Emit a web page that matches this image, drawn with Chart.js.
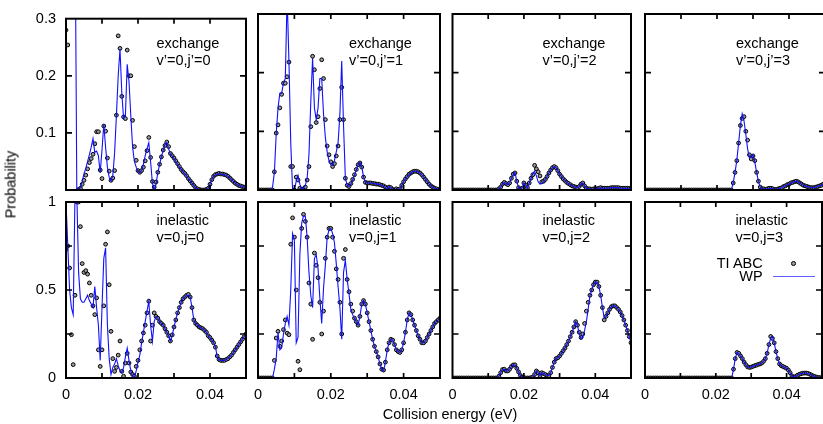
<!DOCTYPE html>
<html><head><meta charset="utf-8">
<script src="https://cdn.jsdelivr.net/npm/chart.js@4.4.1/dist/chart.umd.min.js"></script>
<style>
html,body{margin:0;padding:0;background:#fff;overflow:hidden;width:823px;height:424px;}
#wrap{position:relative;width:823px;height:424px;overflow:hidden;font-family:'Liberation Sans',Arial,sans-serif;color:#000;}
canvas{position:absolute;left:0;top:0;}
.t{position:absolute;font-size:14.5px;line-height:17px;white-space:nowrap;}
</style></head><body><div id="wrap">
<canvas id="c0" width="830" height="424"></canvas>
<canvas id="c1" width="830" height="424"></canvas>
<canvas id="c2" width="830" height="424"></canvas>
<canvas id="c3" width="830" height="424"></canvas>
<canvas id="c4" width="830" height="424"></canvas>
<canvas id="c5" width="830" height="424"></canvas>
<canvas id="c6" width="830" height="424"></canvas>
<canvas id="c7" width="830" height="424"></canvas>
<div class="t" style="left:156.5px;top:35px">exchange<br>v’=0,j’=0</div>
<div class="t" style="left:349px;top:35px">exchange<br>v’=0,j’=1</div>
<div class="t" style="left:542.5px;top:35px">exchange<br>v’=0,j’=2</div>
<div class="t" style="left:736px;top:35px">exchange<br>v’=0,j’=3</div>
<div class="t" style="left:156.5px;top:211.5px">inelastic<br>v=0,j=0</div>
<div class="t" style="left:349px;top:211.5px">inelastic<br>v=0,j=1</div>
<div class="t" style="left:542.5px;top:211.5px">inelastic<br>v=0,j=2</div>
<div class="t" style="left:735.5px;top:211.5px">inelastic<br>v=0,j=3</div>
<div class="t" style="right:60.3px;top:255px;text-align:right">TI ABC</div>
<div class="t" style="right:60.3px;top:267.5px;text-align:right">WP</div>
<div style="position:absolute;left:791px;top:261.2px;width:4.6px;height:4.6px;border:1px solid #000;border-radius:50%;background:#999;box-sizing:border-box"></div>
<div style="position:absolute;left:772.7px;top:275.9px;width:42.3px;height:1.2px;background:#6060ff"></div>
<div class="t" style="left:-39px;top:175.5px;width:100px;text-align:center;transform:rotate(-90deg)">Probability</div>
<div class="t" style="left:300px;top:405.5px;width:300px;text-align:center">Collision energy (eV)</div>
</div>
<script>
// Collision energy grid (eV)
const energy = [0,0.0005,0.001,0.0015,0.002,0.0025,0.003,0.0035,0.004,0.0045,
0.005,0.0055,0.006,0.0065,0.007,0.0075,0.008,0.0085,0.009,0.0095,
0.01,0.0105,0.011,0.0115,0.012,0.0125,0.013,0.0135,0.014,0.0145,
0.015,0.0155,0.016,0.0165,0.017,0.0175,0.018,0.0185,0.019,0.0195,
0.02,0.0205,0.021,0.0215,0.022,0.0225,0.023,0.0235,0.024,0.0245,
0.025,0.0255,0.026,0.0265,0.027,0.0275,0.028,0.0285,0.029,0.0295,
0.03,0.0305,0.031,0.0315,0.032,0.0325,0.033,0.0335,0.034,0.0345,
0.035,0.0355,0.036,0.0365,0.037,0.0375,0.038,0.0385,0.039,0.0395,
0.04,0.0405,0.041,0.0415,0.042,0.0425,0.043,0.0435,0.044,0.0445,
0.045,0.0455,0.046,0.0465,0.047,0.0475,0.048,0.0485,0.049,0.0495,
0.05];

// exchange v'=0,j'=0
const exWP0 = [0.17,0.9,0.9,0.9,0.9,0.5,0,0,0.005,0.015,
0.028,0.038,0.05,0.062,0.075,0.09,0.066,0.068,0.06,0.03,
0.07,0.115,0.075,0.04,0.022,0.016,0.025,0.065,0.13,0.2,
0.247,0.17,0.125,0.13,0.22,0.19,0.13,0.075,0.05,0.04,
0.032,0.03,0.034,0.045,0.06,0.072,0.083,0.05,0.012,0,
0.01,0.03,0.045,0.058,0.07,0.08,0.083,0.072,0.063,0.06,
0.055,0.05,0.045,0.04,0.036,0.032,0.028,0.025,0.02,0.016,
0.012,0.008,0.004,0.002,0.001,0,0,0,0.001,0.003,
0.01,0.018,0.024,0.027,0.028,0.028,0.028,0.027,0.027,0.026,
0.024,0.021,0.018,0.015,0.012,0.01,0.008,0.007,0.006,0.005,
0.004];
const exTI0 = [0.28,0.254,null,null,null,null,null,0.001,0.003,0.01,
0.017,0.026,0.037,0.048,0.055,0.0625,0.081,0.102,0.102,0.035,
0.02,0.112,0.103,0.056,0.033,0.017,0.021,0.034,0.131,0.27,
0.248,0.164,0.128,0.125,0.245,0.2,0.2,0.122,0.076,0.052,
0.034,0.031,0.034,0.04,0.051,0.069,0.092,0.057,0.015,0.005,
0.014,0.031,0.045,0.058,0.07,0.078,0.084,0.076,0.064,0.06,
0.056,0.051,0.046,0.041,0.036,0.032,0.029,0.025,0.02,0.016,
0.012,0.008,0.004,0.002,0.001,0,0,0,0.001,0.003,
0.01,0.018,0.024,0.027,0.028,0.029,0.028,0.028,0.027,0.026,
0.024,0.021,0.018,0.015,0.012,0.01,0.008,0.007,0.006,0.005,
0.004];

// exchange v'=0,j'=1
const exWP1 = [0,0,0,0,0,0,0,0,0.005,0.03,
0.095,0.14,0.165,0.165,0.182,0.19,0.33,0.22,0.08,0,
0,0.015,0.025,0.01,0.002,0.003,0.008,0.02,0.06,0.15,
0.225,0.14,0.12,0.14,0.19,0.19,0.13,0.09,0.065,0.05,
0.043,0.042,0.05,0.065,0.08,0.13,0.22,0.11,0.02,0.008,
0.006,0.01,0.017,0.025,0.034,0.043,0.047,0.04,0.022,0.013,
0.012,0.012,0.012,0.011,0.011,0.01,0.01,0.009,0.008,0.007,
0.004,0.002,0.006,0.004,0.001,0,0.002,0.001,0.002,0.008,
0.014,0.019,0.023,0.026,0.029,0.031,0.032,0.032,0.031,0.029,
0.026,0.022,0.018,0.014,0.01,0.007,0.005,0.003,0.002,0.001,
0.001];
const exTI1 = [0,0,0,0,0,0,0,0,0,0.031,
0.097,0.111,0.14,0.163,0.182,0.182,0.193,0.218,0.04,0.04,
0,0.022,0.017,0.003,0.001,0.002,0.005,0.017,0.04,0.108,
0.228,0.205,0.115,0.125,0.173,0.222,0.19,0.12,0.075,0.06,
0.048,0.04,0.045,0.058,0.075,0.12,0.175,0.12,0.02,0.008,
0.006,0.011,0.018,0.026,0.035,0.043,0.046,0.039,0.022,0.013,
0.012,0.012,0.012,0.011,0.011,0.01,0.01,0.009,0.008,0.007,
0.005,0.003,0.005,0.004,0.001,0,0.002,0.001,0.002,0.008,
0.014,0.019,0.023,0.027,0.029,0.031,0.032,0.032,0.031,0.029,
0.026,0.022,0.018,0.014,0.01,0.007,0.005,0.003,0.002,0.001,
0.001];

// exchange v'=0,j'=2
const exWP2 = [0,0,0,0,0,0,0,0,0,0,
0,0,0,0,0,0,0,0,0,0,
0,0,0,0,0,0,0.002,0.005,0.01,0.013,
0.011,0.009,0.012,0.02,0.026,0.03,0.015,0.004,0.001,0.004,
0.012,0.008,0.003,0.012,0.02,0.028,0.032,0.024,0.014,0.01,
0.011,0.014,0.018,0.023,0.029,0.034,0.038,0.04,0.038,0.033,
0.027,0.023,0.019,0.016,0.013,0.011,0.009,0.007,0.006,0.005,
0.004,0.006,0.01,0.012,0.007,0.003,0.002,0.002,0.001,0.002,
0.002,0.002,0.003,0.004,0.003,0.003,0.003,0.003,0.003,0.004,
0.004,0.004,0.004,0.004,0.003,0.003,0.003,0.003,0.003,0.003,
0.003];
const exTI2 = [0,0,0,0,0,0,0,0,0,0,
0,0,0,0,0,0,0,0,0,0,
0,0,0,0,0,0,0.002,0.005,0.01,0.013,
0.011,0.009,0.012,0.02,0.027,0.029,0.015,0.004,0.001,0.003,
0.012,0.008,0.004,0.012,0.02,0.026,0.042,0.036,0.031,0.024,
0.014,0.015,0.018,0.023,0.029,0.034,0.038,0.04,0.038,0.033,
0.027,0.023,0.019,0.016,0.013,0.011,0.009,0.007,0.006,0.005,
0.004,0.006,0.01,0.012,0.007,0.003,0.002,0.002,0.001,0.002,
0.002,0.002,0.003,0.004,0.003,0.003,0.003,0.003,0.003,0.004,
0.004,0.004,0.004,0.004,0.003,0.003,0.003,0.003,0.003,0.003,
0.003];

// exchange v'=0,j'=3
const exWP3 = [0,0,0,0,0,0,0,0,0,0,
0,0,0,0,0,0,0,0,0,0,
0,0,0,0,0,0,0,0,0,0,
0,0,0,0,0,0,0,0,0,0,
0,0,0,0,0,0,0,0,0,0.012,
0.03,0.05,0.08,0.11,0.13,0.118,0.095,0.07,0.055,0.056,
0.06,0.048,0.03,0.015,0.005,0.002,0.002,0.001,0.002,0.003,
0.003,0.002,0.001,0.001,0.002,0.003,0.004,0.006,0.007,0.009,
0.01,0.012,0.013,0.014,0.015,0.014,0.012,0.01,0.008,0.007,
0.006,0.005,0.004,0.004,0.004,0.005,0.006,0.007,0.008,0.01,
0.012];
const exTI3 = [0,0,0,0,0,0,0,0,0,0,
0,0,0,0,0,0,0,0,0,0,
0,0,0,0,0,0,0,0,0,0,
0,0,0,0,0,0,0,0,0,0,
0,0,0,0,0,0,0,0,0,0.012,
0.03,0.05,0.08,0.11,0.122,0.125,0.1,0.085,0.06,0.053,
0.058,0.05,0.03,0.015,0.005,0.002,0.002,0.001,0.002,0.003,
0.003,0.002,0.001,0.001,0.002,0.003,0.004,0.006,0.007,0.009,
0.01,0.012,0.013,0.014,0.015,0.014,0.012,0.01,0.008,0.007,
0.006,0.005,0.004,0.004,0.004,0.005,0.006,0.007,0.008,0.01,
0.012];

// inelastic v=0,j=0
const inWP0 = [1.0,0.75,0.5,0.4,0.36,1.05,1.05,0.6,0.45,0.43,
0.43,0.45,0.47,0.44,0.42,0.4,0.52,0.4,0.3,0.1,
0.4,0.68,0.74,0.3,0.11,0.02,0.06,0.08,0.11,0.07,
0.04,0.03,0.06,0.12,0.17,0.1,0.04,0.01,0,0.04,
0.09,0.13,0.2,0.26,0.32,0.38,0.435,0.3,0.21,0.32,
0.35,0.34,0.32,0.31,0.3,0.28,0.26,0.24,0.21,0.24,
0.29,0.33,0.37,0.4,0.43,0.45,0.46,0.47,0.47,0.46,
0.4,0.33,0.31,0.3,0.29,0.285,0.28,0.27,0.26,0.24,
0.23,0.215,0.2,0.18,0.12,0.105,0.1,0.1,0.1,0.105,
0.11,0.12,0.13,0.145,0.16,0.175,0.19,0.205,0.22,0.235,
0.25];
const inTI0 = [0.73,0.75,0.625,0.246,0.076,0.47,1.0,1.0,0.86,0.65,
0.6,0.61,0.59,0.54,0.47,0.41,0.36,0.455,0.16,0.066,
0.16,0.41,0.76,0.83,0.53,0.265,0.11,0.038,0.06,0.13,
0.21,0.038,0.01,0.085,0.14,0.085,0.034,0.02,0.01,0.066,
0.1,0.16,0.21,0.256,0.3,0.37,0.436,0.21,0.3,0.37,
0.35,0.34,0.32,0.31,0.3,0.28,0.26,0.24,0.21,0.245,
0.29,0.33,0.37,0.4,0.43,0.45,0.46,0.47,0.475,0.46,
0.4,0.33,0.31,0.3,0.29,0.285,0.28,0.27,0.26,0.24,
0.23,0.215,0.2,0.175,0.125,0.105,0.1,0.1,0.1,0.105,
0.11,0.12,0.13,0.145,0.16,0.175,0.19,0.205,0.22,0.235,
0.25];

// inelastic v=0,j=1
const inWP1 = [0,0,0,0,0,0,0,0,0,0.05,
0.11,0.26,0.16,0.17,0.25,0.31,0.35,0.3,0.5,0.82,
0.78,0.2,0.23,0.7,0.88,0.92,0.92,0.8,0.6,0.47,
0.4,0.68,0.7,0.62,0.45,0.31,0.51,0.64,0.8,0.84,
0.85,0.82,0.77,0.65,0.52,0.4,0.22,0.6,0.67,0.56,
0.48,0.39,0.36,0.34,0.32,0.3,0.35,0.42,0.44,0.42,
0.37,0.32,0.27,0.22,0.18,0.15,0.12,0.08,0.05,0.04,
0.09,0.16,0.2,0.22,0.215,0.19,0.16,0.15,0.145,0.16,
0.2,0.26,0.33,0.37,0.36,0.33,0.3,0.27,0.24,0.22,
0.2,0.2,0.21,0.23,0.25,0.27,0.29,0.31,0.32,0.33,
0.34];
const inTI1 = [0,0,0,0,0,0,0,0,0,0.1,
0.227,0.265,0.18,0.21,0.275,0.33,0.255,0.246,0.76,0.91,
0.8,0.5,0.095,0.047,0.85,0.93,0.89,0.8,0.54,0.42,
0.22,0.71,0.64,0.57,0.43,0.25,0.38,0.68,0.8,0.85,
0.85,0.8,0.72,0.62,0.56,0.43,0.25,0.68,0.73,0.56,
0.49,0.42,0.38,0.34,0.32,0.3,0.35,0.42,0.44,0.42,
0.37,0.32,0.27,0.22,0.18,0.15,0.12,0.08,0.05,0.045,
0.09,0.16,0.2,0.22,0.215,0.19,0.16,0.15,0.145,0.16,
0.2,0.26,0.33,0.37,0.36,0.33,0.3,0.27,0.24,0.22,
0.2,0.2,0.21,0.23,0.25,0.27,0.29,0.31,0.32,0.33,
0.34];

// inelastic v=0,j=2
const inWP2 = [0,0,0,0,0,0,0,0,0,0,
0,0,0,0,0,0,0,0,0,0,
0,0,0,0,0,0,0.01,0.03,0.048,0.05,
0.04,0.04,0.05,0.065,0.074,0.075,0.055,0.035,0.015,0.005,
0.002,0,0,0,0.002,0.005,0.02,0.04,0.03,0.012,
0.03,0.025,0.02,0.015,0.012,0.03,0.06,0.09,0.11,0.115,
0.125,0.14,0.155,0.17,0.19,0.21,0.235,0.26,0.29,0.32,
0.3,0.25,0.225,0.23,0.27,0.32,0.39,0.47,0.5,0.53,
0.545,0.545,0.52,0.47,0.4,0.34,0.35,0.37,0.39,0.405,
0.41,0.41,0.4,0.39,0.375,0.355,0.33,0.3,0.27,0.235,
0.2];
const inTI2 = [0,0,0,0,0,0,0,0,0,0,
0,0,0,0,0,0,0,0,0,0,
0,0,0,0,0,0,0.01,0.03,0.048,0.05,
0.04,0.04,0.05,0.065,0.074,0.075,0.055,0.035,0.015,0.005,
0.002,0,0,0,0.002,0.005,0.02,0.04,0.03,0.012,
0.03,0.025,0.02,0.015,0.012,0.03,0.06,0.09,0.11,0.115,
0.125,0.14,0.155,0.17,0.19,0.21,0.235,0.26,0.29,0.32,
0.3,0.26,0.23,0.25,0.31,0.38,0.43,0.47,0.5,0.53,
0.545,0.545,0.52,0.47,0.4,0.33,0.35,0.37,0.39,0.405,
0.41,0.41,0.4,0.39,0.375,0.355,0.33,0.3,0.27,0.235,
0.2];

// inelastic v=0,j=3
const inWP3 = [0,0,0,0,0,0,0,0,0,0,
0,0,0,0,0,0,0,0,0,0,
0,0,0,0,0,0,0,0,0,0,
0,0,0,0,0,0,0,0,0,0,
0,0,0,0,0,0,0,0,0,0,
0.05,0.11,0.145,0.14,0.125,0.11,0.09,0.075,0.063,0.06,
0.062,0.066,0.07,0.073,0.077,0.08,0.085,0.095,0.11,0.14,
0.19,0.225,0.235,0.2,0.15,0.11,0.08,0.07,0.065,0.06,
0.055,0.045,0.03,0.012,0.005,0.008,0.015,0.02,0.024,0.027,
0.028,0.028,0.026,0.022,0.017,0.012,0.008,0.005,0.003,0.002,
0.001];
const inTI3 = [0,0,0,0,0,0,0,0,0,0,
0,0,0,0,0,0,0,0,0,0,
0,0,0,0,0,0,0,0,0,0,
0,0,0,0,0,0,0,0,0,0,
0,0,0,0,0,0,0,0,0,0,
0.05,0.11,0.145,0.14,0.125,0.11,0.09,0.075,0.063,0.06,
0.062,0.066,0.07,0.073,0.077,0.08,0.085,0.095,0.11,0.14,
0.19,0.236,0.225,0.2,0.15,0.11,0.08,0.07,0.065,0.06,
0.055,0.045,0.03,0.012,0.005,0.008,0.015,0.02,0.024,0.027,
0.028,0.028,0.026,0.022,0.017,0.012,0.008,0.005,0.003,0.002,
0.001];

// layout (pixels)
const colLeft = [66, 258, 452.5, 645];
const colWidth = [180, 182, 178.5, 180];
const rowTop = [14, 202];
const rowHeight = 176;
const CW = 830, CH = 424;
const Y_AXIS_W = 50, X_AXIS_H = 34;

const panels = [
  {id:'c0', row:0, col:0, wp:exWP0, ti:exTI0},
  {id:'c1', row:0, col:1, wp:exWP1, ti:exTI1},
  {id:'c2', row:0, col:2, wp:exWP2, ti:exTI2},
  {id:'c3', row:0, col:3, wp:exWP3, ti:exTI3},
  {id:'c4', row:1, col:0, wp:inWP0, ti:inTI0},
  {id:'c5', row:1, col:1, wp:inWP1, ti:inTI1},
  {id:'c6', row:1, col:2, wp:inWP2, ti:inTI2},
  {id:'c7', row:1, col:3, wp:inWP3, ti:inTI3}
];

Chart.defaults.font.family = "'Liberation Sans', Arial, sans-serif";
Chart.defaults.font.size = 14.5;
Chart.defaults.color = '#000';

const framePlugin = {
  id: 'frame',
  afterDraw(chart) {
    const {ctx, chartArea: a, scales} = chart;
    const xs = scales.x, ys = scales.y;
    ctx.save();
    ctx.strokeStyle = '#000';
    ctx.lineWidth = 1.7;
    ctx.beginPath();
    xs.ticks.forEach(t => {
      const p = xs.getPixelForValue(t.value);
      if (p < a.left + 2 || p > a.right - 2) return;
      ctx.moveTo(p, a.bottom); ctx.lineTo(p, a.bottom - 5);
      ctx.moveTo(p, a.top); ctx.lineTo(p, a.top + 5);
    });
    ys.ticks.forEach(t => {
      const p = ys.getPixelForValue(t.value);
      if (p < a.top + 2 || p > a.bottom - 2) return;
      ctx.moveTo(a.left, p); ctx.lineTo(a.left + 6, p);
      ctx.moveTo(a.right, p); ctx.lineTo(a.right - 6, p);
    });
    ctx.stroke();
    ctx.lineWidth = 2;
    ctx.strokeRect(a.left, a.top, a.right - a.left, a.bottom - a.top);
    ctx.restore();
  }
};

function xLabel(v) {
  const r = Math.round(v * 100);
  if (r % 2 !== 0 || r > 4) return '';
  return r === 0 ? '0' : v.toFixed(2);
}
function yLabelTop(v) {
  return Math.abs(v) < 1e-9 ? '' : v.toFixed(1);
}
function yLabelBottom(v) {
  if (Math.abs(v) < 1e-9) return '0';
  if (Math.abs(v - 0.5) < 1e-9) return '0.5';
  if (Math.abs(v - 1) < 1e-9) return '1';
  return '';
}

panels.forEach(p => {
  const L = colLeft[p.col], W = colWidth[p.col], T = rowTop[p.row], H = rowHeight;
  const top = p.row === 0;
  const yW = p.col === 0 ? Y_AXIS_W : 0;
  const xH = top ? 0 : X_AXIS_H;
  new Chart(document.getElementById(p.id), {
    type: 'scatter',
    data: {
      datasets: [
        {
          label: 'WP',
          data: energy.map((e, i) => ({x: e, y: p.wp[i]})),
          showLine: true,
          borderColor: '#1010ff',
          backgroundColor: '#1010ff',
          borderWidth: 1.1,
          pointRadius: 0,
          pointHoverRadius: 0,
          tension: 0,
          order: 0
        },
        {
          label: 'TI ABC',
          data: energy.map((e, i) => ({x: e, y: p.ti[i]})),
          showLine: false,
          pointRadius: 1.9,
          pointHoverRadius: 1.9,
          pointBorderWidth: 1,
          pointBorderColor: '#000',
          pointBackgroundColor: '#999',
          borderColor: '#000',
          backgroundColor: '#999',
          order: 1
        }
      ]
    },
    options: {
      responsive: false,
      animation: false,
      devicePixelRatio: 1,
      events: [],
      layout: {padding: {left: L - yW, top: T, right: CW - L - W, bottom: CH - T - H - xH}},
      plugins: {legend: {display: false}, tooltip: {enabled: false}},
      scales: {
        x: {
          type: 'linear', min: 0, max: 0.05,
          grid: {display: false, drawTicks: false},
          border: {display: false},
          ticks: {display: !top, stepSize: 0.01, autoSkip: false, maxRotation: 0, padding: 8, color: '#000', callback: xLabel},
          afterFit: s => { s.height = xH; }
        },
        y: {
          type: 'linear', min: 0, max: top ? 0.3 : 1,
          grid: {display: false, drawTicks: false},
          border: {display: false},
          ticks: {display: p.col === 0, stepSize: top ? 0.1 : 0.25, autoSkip: false, padding: 10, color: '#000', callback: top ? yLabelTop : yLabelBottom},
          afterFit: s => { s.width = yW; }
        }
      }
    },
    plugins: [framePlugin]
  });
});
</script>
</body></html>
